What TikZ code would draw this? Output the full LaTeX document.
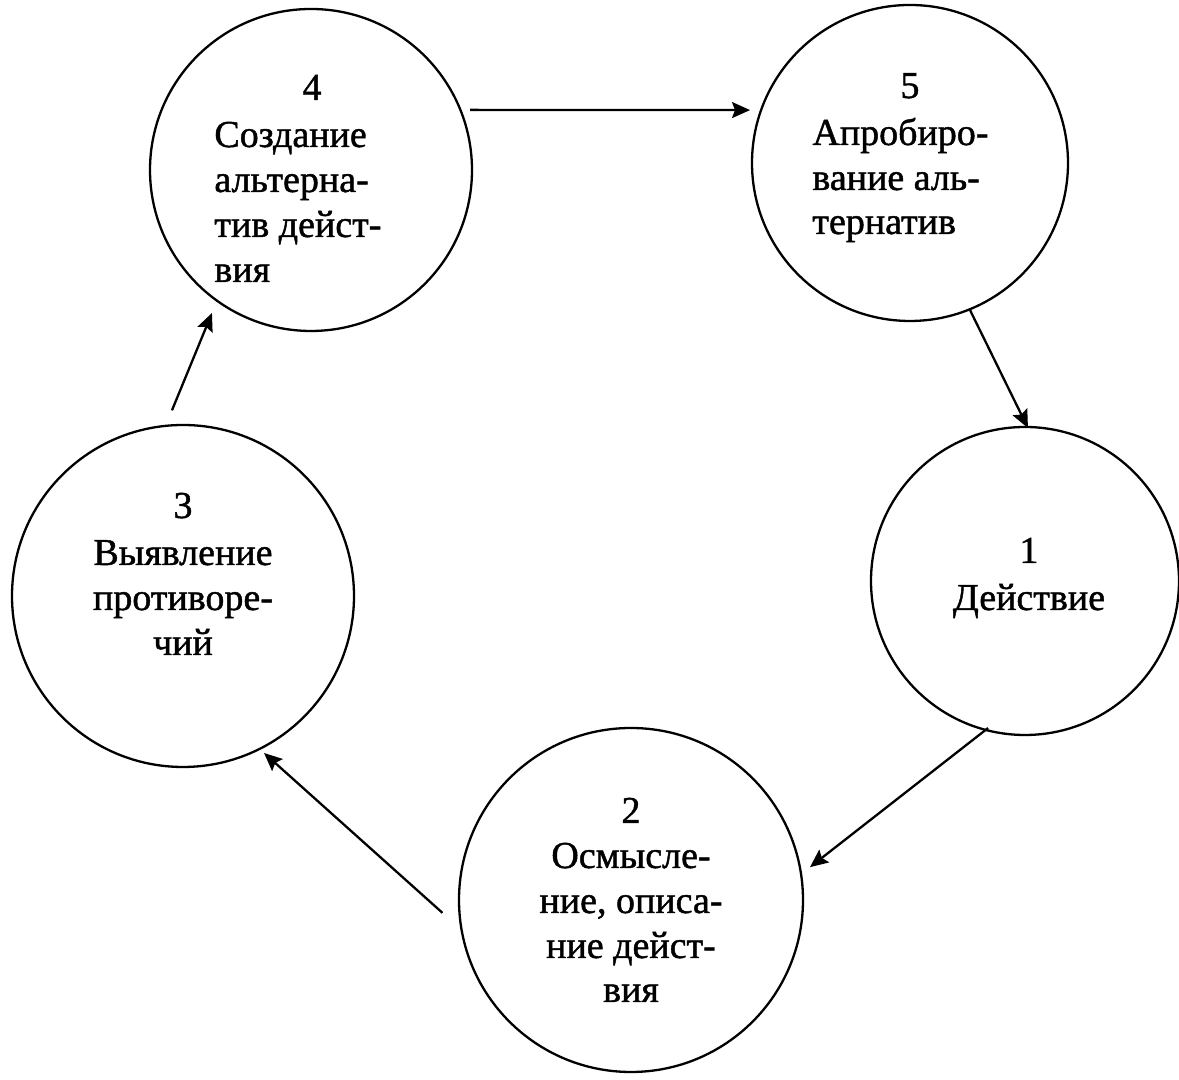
\documentclass[tikz,border=0pt]{standalone}
\usepackage{fontspec}
\setmainfont{Liberation Serif}
\newfontfamily\scanfont[FakeBold=1.2]{Liberation Serif}
\usetikzlibrary{arrows.meta,calc}
\begin{document}
\begin{tikzpicture}[x=0.5pt,y=0.5pt,
  bubble/.style={draw, circle, line width=1.15pt, inner sep=0pt},
  lbl/.style={font=\scanfont\fontsize{19}{22}\selectfont, inner sep=0pt},
  arr/.style={-{Stealth[length=9pt,width=8pt,inset=1.5pt]}, line width=1.15pt}]
\useasboundingbox (0,0) rectangle (1179,1080);
% circles
\node[bubble, minimum size=161pt] (c4) at (311,910) {};
\node[bubble, minimum size=158pt] (c5) at (910,917) {};
\node[bubble, minimum size=154pt] (c1) at (1025,499) {};
\node[bubble, minimum size=172pt] (c2) at (631,180) {};
\node[bubble, minimum size=171pt] (c3) at (183,484) {};
% texts circle 4
\node[lbl, anchor=base] (n4) at (312,980) {4};
\node[lbl, anchor=base west] (t4a) at (214,933) {Создание};
\node[lbl, anchor=base west] (t4b) at (214,888) {альтерна-};
\node[lbl, anchor=base west] (t4c) at (214,843) {тив дейст-};
\node[lbl, anchor=base west] (t4d) at (214,798) {вия};
% texts circle 5
\node[lbl, anchor=base] (n5) at (910,982) {5};
\node[lbl, anchor=base west] (t5a) at (812,935) {Апробиро-};
\node[lbl, anchor=base west] (t5b) at (812,890) {вание аль-};
\node[lbl, anchor=base west] (t5c) at (812,846) {тернатив};
% texts circle 1
\node[lbl, anchor=base] (n1) at (1029,517) {1};
\node[lbl, anchor=base] (t1a) at (1029,470) {Действие};
% texts circle 2
\node[lbl, anchor=base] (n2) at (631,257) {2};
\node[lbl, anchor=base] (t2a) at (631,212) {Осмысле-};
\node[lbl, anchor=base] (t2b) at (631,167) {ние, описа-};
\node[lbl, anchor=base] (t2c) at (631,122) {ние дейст-};
\node[lbl, anchor=base] (t2d) at (631,78) {вия};
% texts circle 3
\node[lbl, anchor=base] (n3) at (183,562) {3};
\node[lbl, anchor=base] (t3a) at (183,515) {Выявление};
\node[lbl, anchor=base] (t3b) at (183,470) {противоре-};
\node[lbl, anchor=base] (t3c) at (183,425) {чий};
% arrows
\draw[arr] ($(c4.center)+(20.7:170)$) -- ($(c5.center)+(161.7:168.5)$);
\draw[arr] ($(c5.center)+(-67.8:159)$) -- ($(c1.center)+(88.9:153)$);
\draw[arr] ($(c1.center)+(255.9:151.6)$) -- ($(c2.center)+(10.4:182)$);
\draw[arr] ($(c2.center)+(183.9:189)$) -- ($(c3.center)+(-62.7:176.7)$);
\draw[arr] ($(c3.center)+(93.4:186)$) -- ($(c4.center)+(235.3:174)$);
\end{tikzpicture}
\end{document}
